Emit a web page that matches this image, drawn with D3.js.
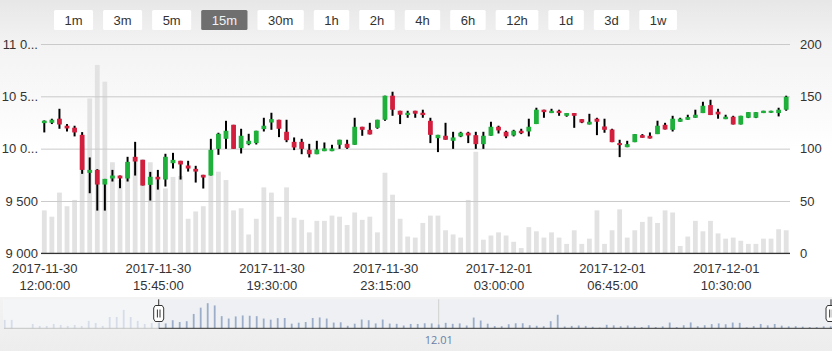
<!DOCTYPE html>
<html>
<head>
<meta charset="utf-8">
<script src="https://cdn.jsdelivr.net/npm/d3@7"></script>
<style>
  body { margin: 0; background: #fff; }
  svg { display: block; font-family: "Open Sans", sans-serif; }
</style>
</head>
<body>
<div id="chart"></div>
<script>
// range selector buttons
const rangeButtons = ["1m", "3m", "5m", "15m", "30m", "1h", "2h", "4h", "6h", "12h", "1d", "3d", "1w"];
const selectedRange = "15m";

// 15 minute candles starting 2017-11-30 12:00
const startTime = "2017-11-30 12:00:00";
const stepMinutes = 15;

const opens = [10244, 10247, 10286, 10219, 10200, 10132, 9769, 9797, 9657, 9715,
  9743, 9715, 9922, 9893, 9654, 9731, 9705, 9861, 9884, 9839,
  9807, 9750, 9743, 9998, 10094, 10228, 10005, 10043, 10053, 10187,
  10250, 10276, 10161, 10065, 10065, 9989, 9947, 9976, 9976, 10037,
  10046, 10037, 10209, 10180, 10199, 10276, 10506, 10362, 10321, 10362,
  10343, 10266, 10100, 10123, 10075, 10117, 10152, 10129, 10043, 10123,
  10209, 10161, 10126, 10171, 10164, 10235, 10372, 10340, 10362, 10314,
  10340, 10282, 10231, 10286, 10212, 10183, 10053, 10014, 10062, 10129,
  10123, 10139, 10228, 10180, 10257, 10276, 10295, 10340, 10416, 10353,
  10282, 10305, 10231, 10295, 10295, 10340, 10343, 10340, 10372];
const highs = [10270, 10286, 10381, 10235, 10219, 10158, 9916, 9804, 9711, 9797,
  9743, 9922, 10065, 9893, 9778, 9797, 9951, 9960, 9884, 9884,
  9836, 9750, 10094, 10152, 10266, 10228, 10190, 10142, 10171, 10295,
  10343, 10276, 10276, 10107, 10094, 10046, 10075, 10059, 10037, 10085,
  10085, 10295, 10209, 10247, 10276, 10506, 10544, 10362, 10362, 10362,
  10372, 10295, 10132, 10247, 10161, 10161, 10161, 10161, 10161, 10257,
  10219, 10171, 10180, 10190, 10286, 10391, 10372, 10381, 10372, 10340,
  10340, 10282, 10333, 10295, 10286, 10190, 10085, 10075, 10139, 10139,
  10155, 10267, 10247, 10314, 10295, 10324, 10372, 10448, 10467, 10381,
  10324, 10314, 10314, 10349, 10349, 10362, 10362, 10391, 10506];
const lows = [10155, 10235, 10190, 10164, 10117, 9759, 9574, 9408, 9408, 9686,
  9622, 9686, 9743, 9648, 9504, 9609, 9638, 9810, 9705, 9781,
  9676, 9619, 9743, 9941, 9998, 9998, 9954, 10033, 10040, 10164,
  10180, 10110, 10062, 9986, 9947, 9916, 9947, 9976, 9976, 9998,
  9998, 10037, 10123, 10136, 10190, 10266, 10314, 10235, 10295, 10295,
  10295, 10053, 9967, 10085, 9998, 10110, 10053, 9998, 9998, 10123,
  10145, 10100, 10117, 10139, 10117, 10235, 10295, 10340, 10314, 10305,
  10199, 10244, 10231, 10129, 10152, 10062, 9919, 10014, 10062, 10104,
  10097, 10139, 10183, 10164, 10257, 10276, 10295, 10340, 10321, 10286,
  10282, 10231, 10231, 10292, 10292, 10340, 10343, 10308, 10362];
const closes = [10267, 10276, 10231, 10193, 10155, 9797, 9797, 9657, 9711, 9743,
  9715, 9874, 9877, 9648, 9731, 9705, 9922, 9893, 9849, 9810,
  9781, 9724, 9989, 10142, 10171, 9998, 10123, 10075, 10171, 10219,
  10282, 10190, 10081, 10011, 9998, 9947, 9992, 10002, 10002, 10085,
  10008, 10209, 10180, 10136, 10276, 10506, 10372, 10324, 10343, 10334,
  10321, 10132, 10132, 10085, 10107, 10152, 10126, 10043, 10123, 10209,
  10174, 10117, 10171, 10148, 10209, 10372, 10349, 10362, 10340, 10340,
  10314, 10250, 10257, 10257, 10180, 10062, 10034, 10043, 10139, 10104,
  10097, 10219, 10183, 10286, 10286, 10302, 10324, 10410, 10321, 10327,
  10305, 10231, 10314, 10349, 10349, 10362, 10362, 10372, 10496];
const volumes = [41, 35, 58, 45, 51, 103, 148, 180, 164, 87,
  70, 85, 92, 90, 87, 70, 62, 73, 74, 33,
  40, 45, 74, 78, 70, 41, 43, 18, 33, 63,
  58, 35, 63, 34, 32, 20, 31, 31, 36, 35,
  27, 39, 32, 35, 20, 77, 56, 33, 16, 15,
  29, 36, 36, 22, 18, 15, 51, 97, 13, 17,
  20, 17, 11, 5, 25, 21, 15, 20, 15, 9,
  22, 9, 14, 41, 9, 22, 42, 15, 22, 30,
  35, 29, 41, 39, 7, 16, 31, 21, 31, 19,
  14, 15, 12, 9, 9, 14, 14, 23, 22];
// navigator volumes before the visible range
const navPreVolumes = [60, 60, 0, 0, 31, 17, 17, 31, 24, 17, 24, 17, 53, 38, 17, 81, 81, 132, 81, 53, 31, 38];

const priceTicks = [9000, 9500, 10000, 10500, 11000];
const volumeTicks = [0, 50, 100, 150, 200];
const xTickTimes = ["2017-11-30 12:00:00", "2017-11-30 15:45:00", "2017-11-30 19:30:00",
  "2017-11-30 23:15:00", "2017-12-01 03:00:00", "2017-12-01 06:45:00", "2017-12-01 10:30:00"];
const navTicks = [{ label: "12.01", time: "2017-11-30 22:00:00" }];

const W = 832, H = 351;
const plot = { left: 41, right: 790, top: 44, bottom: 253.3 };
const nav = { left: 4, right: 831, top: 299.3, bottom: 328.3 };

const parse = d3.timeParse("%Y-%m-%d %H:%M:%S");
const t0 = parse(startTime);
const timeAt = i => d3.timeMinute.offset(t0, i * stepMinutes);

const candles = opens.map((o, i) => ({
  time: timeAt(i), open: o, high: highs[i], low: lows[i], close: closes[i], volume: volumes[i]
}));

const svg = d3.select("#chart").append("svg").attr("width", W).attr("height", H);
const defs = svg.append("defs");

const bgGrad = defs.append("linearGradient").attr("id", "bg").attr("x1", 0).attr("y1", 0).attr("x2", 0).attr("y2", 1);
bgGrad.append("stop").attr("offset", 0).attr("stop-color", "#e7e7e7");
bgGrad.append("stop").attr("offset", 0.3).attr("stop-color", "#f3f3f3");
bgGrad.append("stop").attr("offset", 1).attr("stop-color", "#ffffff");
svg.append("rect").attr("width", W).attr("height", 150).attr("fill", "url(#bg)");

const navGrad = defs.append("linearGradient").attr("id", "navbg").attr("x1", 0).attr("y1", 0).attr("x2", 0).attr("y2", 1);
navGrad.append("stop").attr("offset", 0).attr("stop-color", "#f3f3f3");
navGrad.append("stop").attr("offset", 1).attr("stop-color", "#ededed");
svg.append("rect").attr("y", 297).attr("width", W).attr("height", H - 297).attr("fill", "url(#navbg)");

// scales
const x = d3.scaleTime().domain([timeAt(0), timeAt(candles.length - 1)]).range([44.3, 786.2]);
const yPrice = d3.scaleLinear().domain([9000, 11000]).range([plot.bottom, plot.top]);
const yVol = d3.scaleLinear().domain([0, 200]).range([plot.bottom, plot.top]);

// volume bars
svg.append("g").selectAll("rect").data(candles).join("rect")
  .attr("x", d => x(d.time) - 2.4)
  .attr("width", 4.8)
  .attr("y", d => yVol(d.volume))
  .attr("height", d => plot.bottom - yVol(d.volume))
  .attr("fill", "#e2e2e2");

// price grid + left labels
const fmt = v => d3.format(",")(v).replace(/,/g, " ");
const leftAxis = svg.append("g").attr("transform", `translate(${plot.left},0)`)
  .call(d3.axisLeft(yPrice).tickValues(priceTicks).tickFormat(fmt)
    .tickSize(-(plot.right - plot.left)).tickPadding(3));
leftAxis.select(".domain").remove();
leftAxis.selectAll("line").attr("stroke", "#cacaca");
leftAxis.selectAll("text").attr("fill", "#333").style("font-size", "13px")
  .each(function () {
    const t = d3.select(this), full = t.text(), maxW = 38;
    if (this.getComputedTextLength() <= maxW) return;
    let s = full;
    while (s.length > 1) {
      s = s.slice(0, -1);
      t.text(s + "...");
      if (this.getComputedTextLength() <= maxW) break;
    }
  });

// right volume labels
const rightAxis = svg.append("g").attr("transform", `translate(${plot.right},0)`)
  .call(d3.axisRight(yVol).tickValues(volumeTicks).tickSize(0).tickPadding(10));
rightAxis.select(".domain").remove();
rightAxis.selectAll("text").attr("fill", "#333").style("font-size", "13px");

// bottom axis
const xAxis = svg.append("g").attr("transform", `translate(0,${plot.bottom})`)
  .call(d3.axisBottom(x).tickValues(xTickTimes.map(parse)).tickSize(0).tickSizeOuter(0).tickPadding(0));
xAxis.select(".domain").attr("d", `M${plot.left},0H${plot.right}`).attr("stroke", "#333").attr("stroke-width", 1.3);
xAxis.selectAll("text").attr("fill", "#333").style("font-size", "13px").attr("dy", null).attr("y", 0)
  .each(function (d) {
    const t = d3.select(this).text(null);
    t.append("tspan").attr("x", 0).attr("y", 19.5).text(d3.timeFormat("%Y-%m-%d")(d));
    t.append("tspan").attr("x", 0).attr("y", 36.5).text(d3.timeFormat("%H:%M:%S")(d));
  });

// candles
const candleG = svg.append("g");
const up = "#1faf3b", down = "#d21f3e";
candleG.selectAll("line").data(candles).join("line")
  .attr("x1", d => x(d.time)).attr("x2", d => x(d.time))
  .attr("y1", d => yPrice(d.high)).attr("y2", d => yPrice(d.low))
  .attr("stroke", "#000").attr("stroke-width", 2);
candleG.selectAll("rect").data(candles).join("rect")
  .attr("x", d => x(d.time) - 2.4)
  .attr("width", 4.8)
  .attr("y", d => yPrice(Math.max(d.open, d.close)))
  .attr("height", d => Math.max(1, Math.abs(yPrice(d.open) - yPrice(d.close))))
  .attr("fill", d => d.close >= d.open ? up : down);

// range selector
const btnG = svg.append("g").style("font-family", "'Liberation Sans', Arial, sans-serif").style("font-size", "13px");
let bx = 54;
rangeButtons.forEach(label => {
  const g = btnG.append("g");
  const sel = label === selectedRange;
  const rect = g.append("rect").attr("y", 10).attr("height", 20).attr("rx", 1.5)
    .attr("fill", sel ? "#6f6f6f" : "#ffffff");
  const txt = g.append("text").attr("y", 24.6).attr("text-anchor", "middle")
    .attr("fill", sel ? "#f2f2f2" : "#333").text(label);
  const w = txt.node().getComputedTextLength() + 21;
  rect.attr("x", bx).attr("width", w);
  txt.attr("x", bx + w / 2);
  bx += w + 10;
});

// navigator
const navData = navPreVolumes.map((v, k) => ({ time: timeAt(k - navPreVolumes.length), volume: v }))
  .concat(candles.map(d => ({ time: d.time, volume: d.volume })));
const navX = d3.scaleTime().domain([timeAt(-navPreVolumes.length), timeAt(96)]).range([4.7, 830.7]);
const navY = d3.scaleLinear().domain([0, 208]).range([nav.bottom, nav.top]);
const hL = navX(t0), hR = nav.right;

svg.append("rect").attr("x", nav.left).attr("y", nav.top).attr("width", nav.right - nav.left)
  .attr("height", nav.bottom - nav.top).attr("fill", "#eef0f3");

const navG = svg.append("g");
navG.selectAll("line.tick").data(navTicks).join("line")
  .attr("x1", d => navX(parse(d.time))).attr("x2", d => navX(parse(d.time)))
  .attr("y1", nav.top).attr("y2", nav.bottom).attr("stroke", "#d0d0d0");
navG.selectAll("rect").data(navData.filter(d => navX(d.time) <= nav.right)).join("rect")
  .attr("x", d => navX(d.time) - 0.9).attr("width", 1.8)
  .attr("y", d => navY(d.volume)).attr("height", d => nav.bottom - navY(d.volume))
  .attr("fill", "#9cadc9");
// mask outside the selected range
svg.append("rect").attr("x", nav.left - 1).attr("y", nav.top).attr("width", hL - nav.left + 1)
  .attr("height", nav.bottom - nav.top).attr("fill", "#f6f7f9").attr("opacity", 0.65);

svg.append("line").attr("x1", nav.left).attr("x2", hL).attr("y1", nav.bottom).attr("y2", nav.bottom)
  .attr("stroke", "#c4c4c4");
svg.append("line").attr("x1", hL).attr("x2", nav.right + 2).attr("y1", nav.bottom).attr("y2", nav.bottom)
  .attr("stroke", "#333");

svg.selectAll("text.navtick").data(navTicks).join("text")
  .attr("x", d => navX(parse(d.time))).attr("y", 343.5).attr("text-anchor", "middle")
  .attr("fill", "#6a7fa6").style("font-size", "11px").text(d => d.label);

[hL, hR].forEach(hx => {
  const g = svg.append("g").attr("transform", `translate(${hx},0)`);
  g.append("line").attr("y1", nav.top).attr("y2", 306).attr("stroke", "#333");
  g.append("path")
    .attr("d", "M-3.5,305.5 H3.5 L5,308 V319 L3.5,321.5 H-3.5 L-5,319 V308 Z")
    .attr("fill", "#fff").attr("stroke", "#333");
  g.append("path").attr("d", "M-1.3,309.5V317.5M1.3,309.5V317.5").attr("stroke", "#333");
});
</script>
</body>
</html>
